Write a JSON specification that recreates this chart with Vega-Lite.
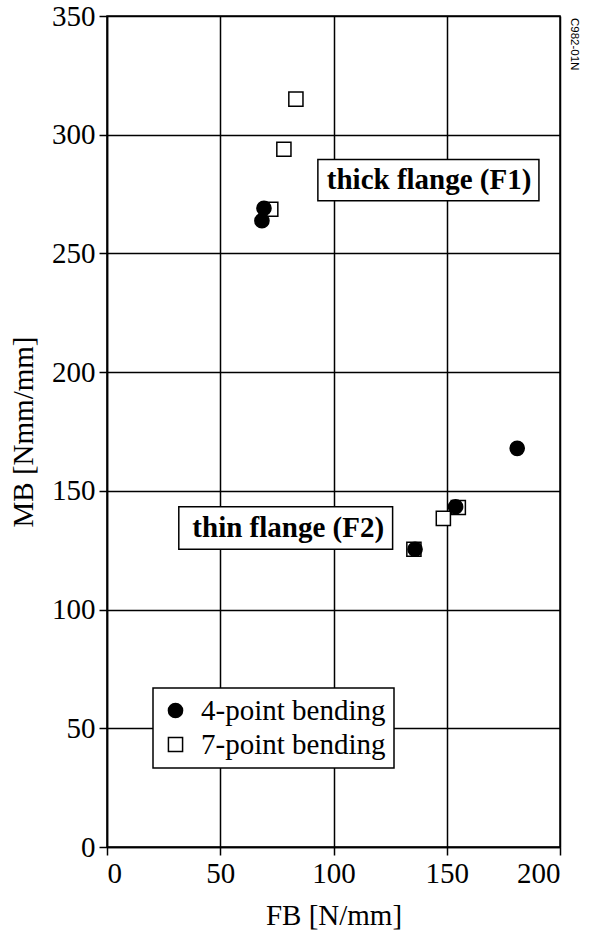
{
  "$schema": "https://vega.github.io/schema/vega-lite/v6.json",
  "width": 453,
  "height": 831,
  "autosize": "none",
  "padding": {"left": 107, "top": 16, "right": 34, "bottom": 90},
  "background": "white",
  "title": {"text": "C982-01N", "orient": "right", "anchor": "start", "font": "Liberation Sans", "fontSize": 11.5, "fontWeight": "normal", "color": "black", "offset": 8, "dx": 16},
  "config": {
    "view": {"stroke": "black", "strokeWidth": 1.5},
    "axis": {
      "domainColor": "black", "domainWidth": 1.5,
      "tickColor": "black", "tickWidth": 1.5, "tickSize": 8,
      "grid": true, "gridColor": "black", "gridWidth": 1.5, "gridOpacity": 1,
      "labelFont": "Liberation Serif", "labelFontSize": 29, "labelColor": "black", "labelPadding": 4,
      "titleFont": "Liberation Serif", "titleFontSize": 29, "titleFontWeight": "normal", "titleColor": "black"
    },
    "legend": {
      "strokeColor": "black", "strokeWidth": 1.5, "fillColor": "white"
    }
  },
  "datasets": {
    "pts": [
      {"F": 83.4, "M": 315.0, "series": "7-point bending"},
      {"F": 78.1, "M": 293.9, "series": "7-point bending"},
      {"F": 72.3, "M": 268.6, "series": "7-point bending"},
      {"F": 135.5, "M": 125.4, "series": "7-point bending"},
      {"F": 148.5, "M": 138.4, "series": "7-point bending"},
      {"F": 155.1, "M": 143.0, "series": "7-point bending"},
      {"F": 68.4, "M": 263.8, "series": "4-point bending"},
      {"F": 69.3, "M": 269.0, "series": "4-point bending"},
      {"F": 136.0, "M": 125.4, "series": "4-point bending"},
      {"F": 153.9, "M": 143.3, "series": "4-point bending"},
      {"F": 181.1, "M": 167.9, "series": "4-point bending"}
    ],
    "notes": [
      {"label": "thick flange (F1)", "F": 93.1, "F2": 190.7, "M": 272.2, "M2": 289.6, "Fc": 142.2, "Mc": 280.9},
      {"label": "thin flange (F2)", "F": 31.7, "F2": 126.1, "M": 125.4, "M2": 143.3, "Fc": 80.0, "Mc": 134.3}
    ]
  },
  "layer": [
    {
      "data": {"name": "notes"},
      "mark": {"type": "rect", "fill": "white", "stroke": "black", "strokeWidth": 1.5},
      "encoding": {
        "x": {"field": "F", "type": "quantitative", "scale": {"domain": [0, 200], "nice": false}, "axis": {"title": "FB [N/mm]", "values": [0, 50, 100, 150, 200], "titlePadding": 13}},
        "x2": {"field": "F2"},
        "y": {"field": "M", "type": "quantitative", "scale": {"domain": [0, 350], "nice": false}, "axis": {"title": "MB [Nmm/mm]", "values": [0, 50, 100, 150, 200, 250, 300, 350], "titlePadding": 13}},
        "y2": {"field": "M2"}
      }
    },
    {
      "data": {"name": "notes"},
      "mark": {"type": "text", "font": "Liberation Serif", "fontSize": 29, "fontWeight": "bold", "color": "black", "baseline": "middle", "align": "center"},
      "encoding": {
        "x": {"field": "Fc", "type": "quantitative", "axis": {"title": "FB [N/mm]"}},
        "y": {"field": "Mc", "type": "quantitative", "axis": {"title": "MB [Nmm/mm]"}},
        "text": {"field": "label"}
      }
    },
    {
      "data": {"name": "pts"},
      "mark": {"type": "point", "filled": false, "stroke": "black", "strokeWidth": 1.5, "opacity": 1, "size": 200},
      "encoding": {
        "x": {"field": "F", "type": "quantitative", "axis": {"title": "FB [N/mm]"}},
        "y": {"field": "M", "type": "quantitative", "axis": {"title": "MB [Nmm/mm]"}},
        "shape": {
          "field": "series", "type": "nominal",
          "scale": {"domain": ["4-point bending", "7-point bending"], "range": ["circle", "square"]},
          "legend": {"title": null, "orient": "none", "legendX": 46, "legendY": 672, "padding": 8, "symbolSize": 200, "labelFont": "Liberation Serif", "labelFontSize": 29, "labelColor": "black", "labelOffset": 11, "labelLimit": 0, "rowPadding": 4, "encode": {"symbols": {"update": {"stroke": {"value": "black"}, "strokeWidth": {"value": 1.5}}}}}
        },
        "fill": {
          "field": "series", "type": "nominal",
          "scale": {"domain": ["4-point bending", "7-point bending"], "range": ["black", "white"]},
          "legend": {"title": null, "orient": "none", "legendX": 46, "legendY": 672, "padding": 8, "symbolSize": 200, "labelFont": "Liberation Serif", "labelFontSize": 29, "labelColor": "black", "labelOffset": 11, "labelLimit": 0, "rowPadding": 4, "encode": {"symbols": {"update": {"stroke": {"value": "black"}, "strokeWidth": {"value": 1.5}}}}}
        }
      }
    }
  ]
}
